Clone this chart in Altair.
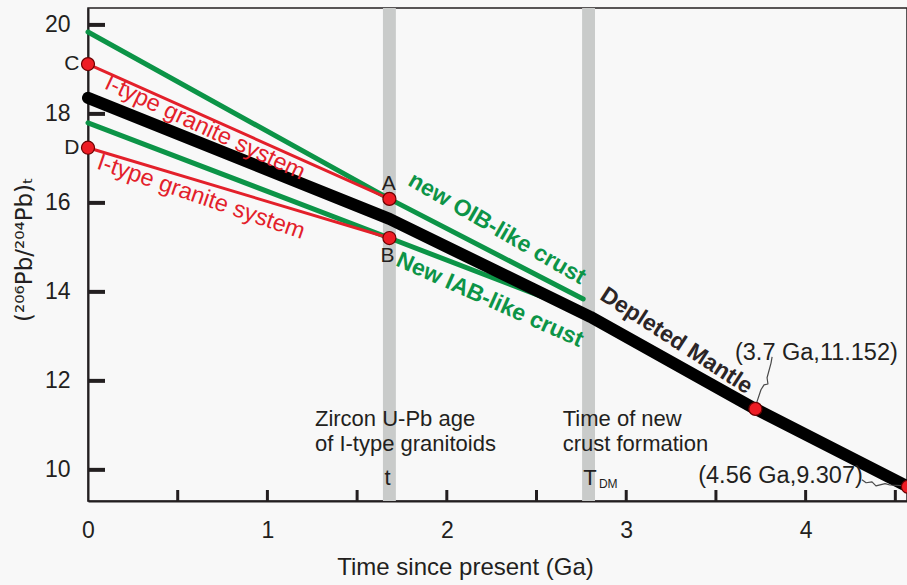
import altair as alt
import pandas as pd

# ---------------- data ----------------
dm_t = [0.0, 1.68, 2.80, 3.72, 4.57]
dm_v = [18.36, 15.64, 13.44, 11.37, 9.62]
oib_t = [0.0, 1.68, 2.76]
oib_v = [19.84, 16.09, 13.84]
iab_t = [0.0, 1.68, 2.81]
iab_v = [17.80, 15.21, 13.46]
granC_t = [0.0, 1.68]
granC_v = [19.12, 16.09]
granD_t = [0.0, 1.68]
granD_v = [17.24, 15.21]
pt_t = [0.0, 0.0, 1.68, 1.68, 3.72, 4.57]
pt_v = [19.12, 17.24, 16.09, 15.21, 11.37, 9.62]
band_center = [1.68, 2.79]
band_half = 0.036
ytick_vals = [10, 12, 14, 16, 18, 20]
xtick_vals = [0.5, 1.0, 1.5, 2.0, 2.5, 3.0, 3.5, 4.0, 4.5]
xlabel_vals = [0, 1, 2, 3, 4]

lead1_t = [3.723, 3.751, 3.768, 3.790, 3.785, 3.807, 3.813]
lead1_v = [11.46, 11.80, 11.91, 11.93, 12.07, 12.40, 12.54]
lead2_t = [4.314, 4.337, 4.370, 4.392, 4.443, 4.470, 4.565]
lead2_v = [9.775, 9.71, 9.73, 9.64, 9.69, 9.66, 9.64]

# annotations: label, t, v, angle, color, size
reg_labels = ["C", "D", "A", "B", "I-type granite system", "I-type granite system",
              "(3.7 Ga,11.152)", "(4.56 Ga,9.307)", "t", "T", "DM"]
reg_t = [-0.09, -0.09, 1.677, 1.67, 0.652, 0.63, 4.06, 3.86, 1.67, 2.798, 2.90]
reg_v = [19.12, 17.24, 16.43, 14.81, 17.69, 16.13, 12.63, 9.87, 9.82, 9.82, 9.69]
reg_angle = [0, 0, 0, 0, 25, 19, 0, 0, 0, 0, 0]
reg_color = ["#231f20", "#231f20", "#231f20", "#231f20", "#e3202a", "#e3202a",
             "#231f20", "#231f20", "#231f20", "#231f20", "#231f20"]
reg_size = [21, 21, 21, 21, 23.5, 23.5, 23.5, 23.5, 22, 22, 12]

bold_labels = ["new OIB-like crust", "New IAB-like crust", "Depleted Mantle"]
bold_t = [2.28, 2.24, 3.28]
bold_v = [15.42, 13.82, 12.90]
bold_angle = [30, 24, 33]
bold_color = ["#0c9447", "#0c9447", "#2b2526"]

left_labels = ["Zircon U-Pb age", "of I-type granitoids", "Time of new", "crust formation"]
left_t = [1.265, 1.265, 2.646, 2.646]
left_v = [11.15, 10.58, 11.15, 10.58]

# ---------------- chart ----------------
W, H = 819, 493
FONT = "Liberation Sans"
INK = "#231f20"

xs = alt.Scale(domain=[0, 4.565], nice=False, zero=False)
ys = alt.Scale(domain=[9.30, 20.38], nice=False, zero=False)

x_axis = alt.Axis(values=xlabel_vals, ticks=False, tickSize=0, grid=False, labelFlush=False,
                  domainColor=INK, domainWidth=2, labelFont="Liberation Sans Narrow, Liberation Sans",
                  labelFontSize=23, labelColor=INK, labelPadding=18,
                  title="Time since present (Ga)", titleFont="Liberation Sans Narrow, Liberation Sans",
                  titleFontSize=24, titleFontWeight="normal", titleColor=INK,
                  titleX=377, titleY=66, titleBaseline="middle", titleAlign="center")
y_axis = alt.Axis(values=ytick_vals, ticks=False, tickSize=0, grid=False, labelFlush=False,
                  domainColor=INK, domainWidth=2, labelFont=FONT, labelFontSize=23,
                  labelColor=INK, labelPadding=18,
                  title="(²⁰⁶Pb/²⁰⁴Pb)ₜ", titleFont="DejaVu Sans", titleFontSize=23,
                  titleFontWeight="normal", titleColor=INK, titleAngle=-90,
                  titleX=-64, titleY=241, titleAlign="center", titleBaseline="middle")


def X(field="t"):
    return alt.X(f"{field}:Q", scale=xs, axis=x_axis)


def Y(field="v"):
    return alt.Y(f"{field}:Q", scale=ys, axis=y_axis)


def line_layer(ts, vs, color, width, cap="round"):
    df = pd.DataFrame({"t": ts, "v": vs, "i": list(range(len(ts)))})
    return alt.Chart(df).mark_line(color=color, strokeWidth=width, strokeCap=cap, strokeJoin="round").encode(
        x=X(), y=Y(), order="i:Q")


bands_df = pd.DataFrame({"t0": [c - band_half for c in band_center],
                         "t1": [c + band_half for c in band_center]})
bands = alt.Chart(bands_df).mark_rect(color="#c9cbca").encode(
    x=alt.X("t0:Q", scale=xs, axis=x_axis), x2="t1:Q", y=alt.value(0), y2=alt.value(H))

ytk = alt.Chart(pd.DataFrame({"v": ytick_vals})).mark_rule(color=INK, strokeWidth=4).encode(
    y=Y(), x=alt.value(0), x2=alt.value(17))
xtk = alt.Chart(pd.DataFrame({"t": xtick_vals})).mark_rule(color=INK, strokeWidth=3).encode(
    x=X(), y=alt.value(H), y2=alt.value(H - 11))

green1 = line_layer(oib_t, oib_v, "#0c9447", 5)
green2 = line_layer(iab_t, iab_v, "#0c9447", 5)
red1 = line_layer(granC_t, granC_v, "#e3202a", 3)
red2 = line_layer(granD_t, granD_v, "#e3202a", 3)
black = line_layer(dm_t, dm_v, "#000000", 12)
lead1 = line_layer(lead1_t, lead1_v, "#4a4a4a", 1.2, cap="butt")
lead2 = line_layer(lead2_t, lead2_v, "#4a4a4a", 1.2, cap="butt")

pts = alt.Chart(pd.DataFrame({"t": pt_t, "v": pt_v})).mark_circle(
    size=170, color="#ee1c24", opacity=1, stroke="#6b0000", strokeWidth=1.2).encode(x=X(), y=Y())

reg_df = pd.DataFrame({"label": reg_labels, "t": reg_t, "v": reg_v, "angle": reg_angle,
                       "col": reg_color, "sz": reg_size})
reg_text = alt.Chart(reg_df).mark_text(font=FONT, baseline="middle", align="center").encode(
    x=X(), y=Y(), text="label:N", angle=alt.Angle("angle:Q", scale=None),
    color=alt.Color("col:N", scale=None), size=alt.Size("sz:Q", scale=None))

bold_df = pd.DataFrame({"label": bold_labels, "t": bold_t, "v": bold_v, "angle": bold_angle,
                        "col": bold_color})
bold_text = alt.Chart(bold_df).mark_text(font=FONT, fontWeight="bold", fontSize=23,
                                         baseline="middle", align="center").encode(
    x=X(), y=Y(), text="label:N", angle=alt.Angle("angle:Q", scale=None),
    color=alt.Color("col:N", scale=None))

left_df = pd.DataFrame({"label": left_labels, "t": left_t, "v": left_v})
left_text = alt.Chart(left_df).mark_text(font=FONT, fontSize=22, baseline="middle", align="left",
                                         color=INK).encode(x=X(), y=Y(), text="label:N")

chart = alt.layer(bands, green1, green2, red1, red2, black, lead1, lead2, pts,
                  ytk, xtk, reg_text, bold_text, left_text).properties(
    width=W, height=H, background="#f8f8f8",
    autosize=alt.AutoSizeParams(type="none"),
    padding={"left": 88, "top": 8, "right": 0, "bottom": 84}
).configure_view(stroke=INK, strokeWidth=1.5)

chart.save("out.html", embed_options={"renderer": "svg", "actions": False})
